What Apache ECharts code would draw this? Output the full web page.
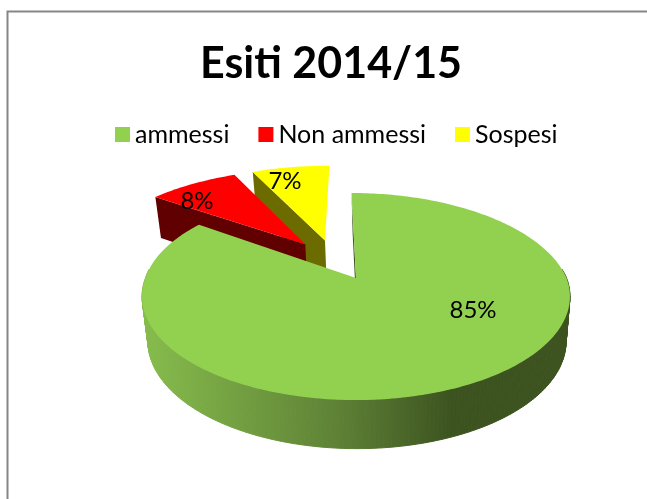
<!DOCTYPE html>
<html><head><meta charset="utf-8">
<style>html,body{margin:0;padding:0;background:#fff}#c{width:647px;height:499px}</style>
<script src="https://cdn.jsdelivr.net/npm/echarts@6/dist/echarts.min.js"></script>
</head><body><div id="c"></div>
<script>
const categories = ['ammessi', 'Non ammessi', 'Sospesi'];
const values = [85, 8, 7];
const topColors = ['#92D050', '#FF0000', '#FFFF00'];
const faceColors = ['#3D5620', '#600000', '#6B6B00'];

const FONT = 'Lato';
const total = values.reduce((a, b) => a + b, 0);
const DEG = Math.PI / 180;
// Perspective projection of the pie plane; origin is the main slice's apex.
const K = 0.1787;
const TOP = { x: 356, y: 278, a: 210.5, b: 100.2 };
const BOT = { x: 357, y: 322, a: 205.7, b: 104 };
const EXPLODE_U = 0.235, EXPLODE_V = 0.215;
const WIDEN = [1, 1.06, 1.05];
const LEAN = [0.025, 0, 0];
const labelAt = [[473, 310], [197, 201], [285, 181]];
function project(pl, u, v) {
  const d = 1 + K * v;
  return [pl.x + pl.a * u / d, pl.y - pl.b * v / d];
}
function sliceAngles(i) {
  const before = values.slice(0, i).reduce((a, b) => a + b, 0);
  return [before / total * 360, (before + values[i]) / total * 360];
}
function apexOf(i) {
  const [s, e] = sliceAngles(i);
  const [s0, e0] = sliceAngles(0);
  const m = (s + e) / 2 * DEG, m0 = (s0 + e0) / 2 * DEG;
  return [EXPLODE_U * (Math.sin(m) - Math.sin(m0)), EXPLODE_V * (Math.cos(m) - Math.cos(m0))];
}
function arc(pl, i, from, to) {
  const ap = apexOf(i), pts = [];
  const n = Math.max(2, Math.ceil(Math.abs(to - from)));
  for (let j = 0; j <= n; j++) {
    const t = (from + (to - from) * j / n) * DEG;
    const c = Math.cos(t);
    pts.push(project(pl, ap[0] + WIDEN[i] * Math.sin(t) - LEAN[i] * Math.max(0, c), ap[1] + c));
  }
  return pts;
}
function center(pl, i) { const ap = apexOf(i); return project(pl, ap[0], ap[1]); }

function renderSlice(i) {
  return function () {
    const [s, e] = sliceAngles(i);
    const kids = [];
    const poly = (points, fill, stroke) => kids.push({
      type: 'polygon', shape: { points },
      style: stroke ? { fill, stroke: fill, lineWidth: 1 } : { fill }
    });
    const ct = center(TOP, i), cb = center(BOT, i);
    if (i === 0) {
      // outer wall, front part only: per-step quads so the silhouette joins both rims
      const shade = new echarts.graphic.LinearGradient(143, 0, 571, 0, [
        { offset: 0, color: '#86BC4C' },
        { offset: 0.45, color: '#5F8236' },
        { offset: 0.72, color: '#3C5320' },
        { offset: 1, color: '#3C5320' }
      ], true);
      const at = arc(TOP, i, 85, 275), ab = arc(BOT, i, 85, 275);
      for (let j = 0; j + 1 < at.length; j++) {
        poly([at[j], at[j + 1], ab[j + 1], ab[j]], shade, true);
      }
    }
    // radial wall along the slice's start edge
    const a = arc(TOP, i, s, s)[0], b = arc(BOT, i, s, s)[0];
    poly([a, ct, cb, b], faceColors[i]);
    poly([ct].concat(arc(TOP, i, s, e)), topColors[i]);
    kids.push({
      type: 'text',
      style: {
        x: labelAt[i][0], y: labelAt[i][1], text: values[i] + '%',
        fill: '#000', font: '24px ' + FONT, align: 'center', verticalAlign: 'middle'
      }
    });
    return { type: 'group', children: kids };
  };
}

const chart = echarts.init(document.getElementById('c'), null, { renderer: 'canvas' });
chart.setOption({
  animation: false,
  backgroundColor: '#fff',
  graphic: [{
    type: 'rect', silent: true,
    shape: { x: 7.5, y: 11.5, width: 700, height: 600 },
    style: { fill: 'none', stroke: '#868686', lineWidth: 2 }
  }],
  title: {
    text: 'Esiti 2014/15', left: 326, top: 38, textAlign: 'center',
    textStyle: { fontFamily: FONT, fontSize: 43, fontWeight: 'bold', color: '#000' }
  },
  legend: {
    data: categories, left: 110, top: 117, itemWidth: 15, itemHeight: 15, itemGap: 29,
    icon: 'rect', selectedMode: false,
    textStyle: { fontFamily: FONT, fontSize: 25, color: '#000' }
  },
  series: [2, 1, 0].map(i => ({
    type: 'custom', name: categories[i], data: [[values[i]]], z: 3 - i,
    silent: true, coordinateSystem: 'none',
    itemStyle: { color: topColors[i] },
    renderItem: renderSlice(i)
  }))
});
</script></body></html>
